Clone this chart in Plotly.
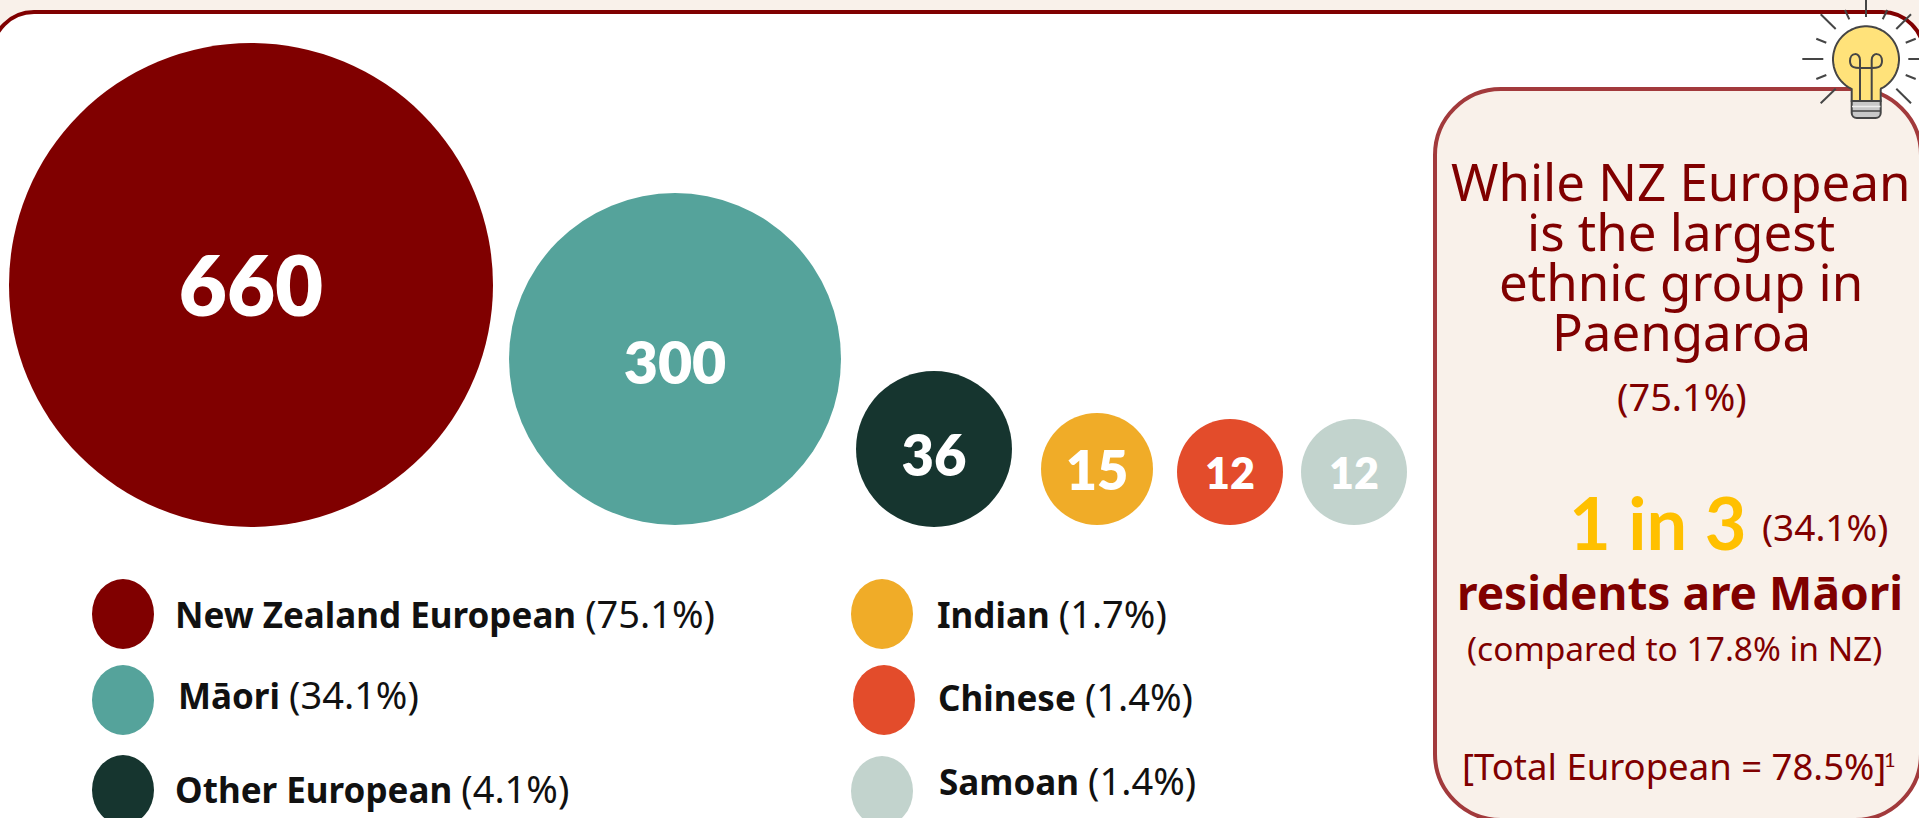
import numpy as np
import plotly.graph_objects as go

# ---------- data ----------
groups = ["New Zealand European", "Māori", "Other European", "Indian", "Chinese", "Samoan"]
counts = [660, 300, 36, 15, 12, 12]
shares = ["75.1%", "34.1%", "4.1%", "1.7%", "1.4%", "1.4%"]

# ---------- style / layout ----------
W, H = 1919, 818
RED = "#800000"
BEIGE = "#F9F1EA"
colors = ["#800000", "#55A39B", "#16352F", "#F0AC28", "#E34C2B", "#C2D3CD"]
diameters = [484, 332, 156, 112, 106, 106]
left_edges = [9, 509, 856, 1041, 1177, 1301]
bubble_bottoms = [527, 525, 527, 525, 525, 525]
label_sizes = [83, 59, 56, 54, 43, 43]
label_shift = [10, 10, 13, 7, 6, 6]

legend_ellipse_x = [92, 92, 92, 851, 853, 851]
legend_ellipse_y = [579, 665, 755, 579, 665, 756]
legend_text_x = [173, 176, 173, 935, 936, 937]
legend_text_y = [613, 694, 788, 613, 696, 780]
LEGEND_FONT = "Noto Sans"
LEGEND_SIZE = 35
LEGEND_PAREN_SIZE = 38

bx = [l + d / 2 for l, d in zip(left_edges, diameters)]
by = [b - d / 2 for b, d in zip(bubble_bottoms, diameters)]
ly = [y + s for y, s in zip(by, label_shift)]


def rrect(x0, y0, x1, y1, r):
    k = r * 0.4477
    return (f"M{x0+r},{y0} L{x1-r},{y0} C{x1-k},{y0} {x1},{y0+k} {x1},{y0+r} "
            f"L{x1},{y1-r} C{x1},{y1-k} {x1-k},{y1} {x1-r},{y1} "
            f"L{x0+r},{y1} C{x0+k},{y1} {x0},{y1-k} {x0},{y1-r} "
            f"L{x0},{y0+r} C{x0},{y0+k} {x0+k},{y0} {x0+r},{y0} Z")


shapes = [
    dict(type="path", path=rrect(-8, 12, 1924, 900, 42), fillcolor="white",
         line=dict(color=RED, width=4)),
    dict(type="path", path=rrect(1435, 89, 1921, 820, 66), fillcolor=BEIGE,
         line=dict(color="#A23A3C", width=4)),
]
for i in range(len(groups)):
    shapes.append(dict(type="circle", x0=legend_ellipse_x[i], x1=legend_ellipse_x[i] + 62,
                       y0=legend_ellipse_y[i], y1=legend_ellipse_y[i] + 70,
                       fillcolor=colors[i], line=dict(width=0)))

# light-bulb icon
INK = "#454545"
rays = [(1866, 0, 1866, 17), (1845, 10, 1849.3, 19.3), (1887.3, 10, 1882.7, 19.3),
        (1820.7, 14.3, 1835.7, 29), (1911, 14.3, 1896.3, 29),
        (1816.3, 38.7, 1826.3, 42.7), (1915.7, 38.7, 1905.7, 42.7),
        (1802.3, 59, 1823.3, 59), (1908.3, 59, 1919, 59),
        (1816.3, 79, 1826.3, 75), (1915.7, 79, 1905.7, 75),
        (1820.7, 103.3, 1835.7, 88.7), (1911, 103.3, 1896.3, 88.7)]
for r in rays:
    shapes.append(dict(type="line", x0=r[0], y0=r[1], x1=r[2], y1=r[3],
                       line=dict(color=INK, width=2)))
a = np.radians(np.linspace(25.7, 334.3, 80))
arc = " ".join(f"L{1866 - 33 * np.sin(t):.1f},{59.3 + 33 * np.cos(t):.1f}" for t in a)
shapes.append(dict(type="path", path=rrect(1851.7, 96, 1880.7, 118, 5), fillcolor="#C8C8C8",
                   line=dict(color=INK, width=2)))
for yy, c in [(106.5, "#EDEDED"), (111, INK)]:
    shapes.append(dict(type="line", x0=1852, x1=1880.4, y0=yy, y1=yy, line=dict(color=c, width=1.5)))
shapes.append(dict(type="path", path=f"M1851.7,101 L1851.7,89 {arc} L1880.7,89 L1880.7,101 Z",
                   fillcolor="#FFE27A", line=dict(color=INK, width=2)))
shapes.append(dict(type="path",
                   path="M1860,100 L1860,60 C1860,52 1850,52 1850,61 C1850,68 1856,68 1860,68 "
                        "L1871.7,68 C1876,68 1882,68 1882,61 C1882,52 1871.7,52 1871.7,60 L1871.7,100",
                   line=dict(color=INK, width=2)))

fig = go.Figure()
fig.add_trace(go.Scatter(
    x=bx, y=by, mode="markers",
    marker=dict(size=diameters, color=colors, line=dict(width=0), opacity=1),
    hovertext=groups, hoverinfo="text", showlegend=False,
))
fig.add_trace(go.Scatter(
    x=bx, y=ly, mode="text",
    text=[str(c) for c in counts], textposition="middle center",
    textfont=dict(family="Lato", size=label_sizes, color="white", weight=800),
    hoverinfo="skip", showlegend=False,
))

annotations = []


def note(x, y, text, size, color="#000", family="Noto Sans", anchor="left", weight=None):
    annotations.append(dict(x=x, y=y, xref="x", yref="y", text=text, showarrow=False,
                            xanchor=anchor, yanchor="middle",
                            font=dict(size=size, color=color, family=family, weight=weight)))


for i in range(len(groups)):
    note(legend_text_x[i], legend_text_y[i],
         f"<b>{groups[i]}</b> <span style=\"font-size:{LEGEND_PAREN_SIZE}px\">({shares[i]})</span>",
         LEGEND_SIZE, color="#111", family=LEGEND_FONT)

callout_lines = ["While NZ European", "is the largest", "ethnic group in", "Paengaroa"]
for line, yy in zip(callout_lines, [181, 231, 281, 331]):
    note(1681, yy, line, 51, RED, "Noto Sans", "center")
note(1682, 396, f"({shares[0]})", 38, RED, "Noto Sans", "center")
note(1657, 522, "1 in 3", 72, "#FFC000", "Lato", "center", 700)
note(1825, 526, f"({shares[1]})", 37, RED, "Noto Sans", "center")
note(1680, 592, "<b>residents are Māori</b>", 46, RED, "Noto Sans", "center")
note(1674, 648, "(compared to 17.8% in NZ)", 33.5, RED, "Noto Sans", "center")
note(1674, 766, "[Total European = 78.5%]", 36.5, RED, "Noto Sans", "center")
note(1890, 759, "1", 20, RED, "Lato", "center")

fig.update_layout(
    width=W, height=H, margin=dict(l=0, r=0, t=0, b=0), autosize=False,
    paper_bgcolor=BEIGE, plot_bgcolor="rgba(0,0,0,0)",
    xaxis=dict(range=[0, W], visible=False, fixedrange=True),
    yaxis=dict(range=[H, 0], visible=False, fixedrange=True),
    shapes=[dict(s, layer="below") for s in shapes],
    annotations=annotations, hovermode="closest",
)
fig.write_html("out.html", config=dict(displayModeBar=False),
               post_script="document.body.style.margin='0';document.body.style.overflow='hidden';")
